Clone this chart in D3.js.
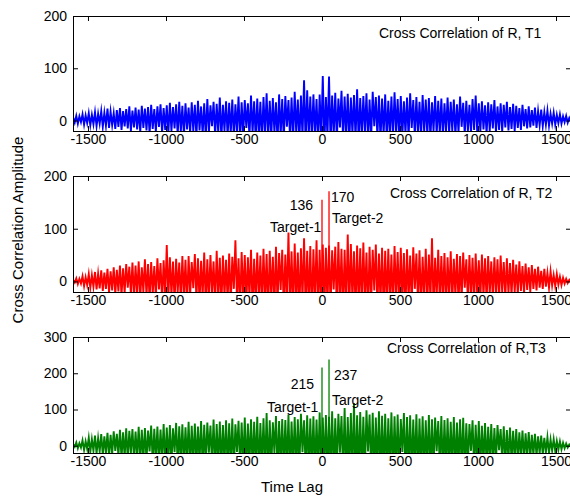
<!DOCTYPE html>
<html><head><meta charset="utf-8">
<script src="https://cdn.jsdelivr.net/npm/d3@7"></script>
<style>
body{margin:0;background:#fff}
svg text{font-family:"Liberation Sans",Arial,sans-serif;fill:#000}
</style>
</head><body>
<svg id="chart" width="570" height="497"></svg>
<script>
// ---------- data ----------
const lagStart = -1595, lagStep = 20;          // bin lags (x categories)
const xTicks = [-1500, -1000, -500, 0, 500, 1000, 1500];
const yTicksT1 = [0, 100, 200];
const yTicksT2 = [0, 100, 200];
const yTicksT3 = [0, 100, 200, 300];
const titles = ["Cross Correlation of R, T1", "Cross Correlation of R, T2", "Cross Correlation of R,T3"];

// upper swings of the correlation signal per lag bin
const t1Peaks = [6,9,8,12,10,14,11,16,13,18,
 15,23,17,14,20,24,18,22,27,19,
 25,21,28,23,26,30,22,27,31,24,
 29,34,26,31,36,28,33,25,35,30,
 38,27,33,41,29,36,32,44,30,37,
 34,40,31,46,35,39,33,48,37,42,
 36,45,52,38,43,35,50,41,47,39,
 44,55,40,48,77,58,46,50,41,50,
 85,45,84,48,53,42,57,46,51,44,
 49,60,43,47,52,40,55,45,48,42,
 50,38,46,54,41,47,37,44,52,39,
 45,36,49,40,43,35,47,38,42,33,
 44,36,40,31,46,34,38,30,41,48,
 33,37,29,35,31,39,27,33,30,36,
 26,32,28,24,30,22,27,20,25,18,
 21,16,19,13,15,11,12,8,9,5];
// lower swings
const t1Troughs = [-4,-6,-3,-8,-5,-9,-7,-11,-6,-12,
 -10,-14,-9,-16,-12,-18,-11,-15,-20,-13,
 -17,-22,-14,-19,-25,-16,-21,-12,-24,-18,
 -26,-20,-15,-28,-22,-30,-17,-25,-21,-32,
 -19,-27,-33,-23,-11,-29,-24,-35,-20,-31,
 -26,-34,-22,-38,-28,-14,-33,-25,-36,-30,
 -40,-27,-35,-31,-24,-42,-29,-37,-12,-33,
 -38,-26,-41,-32,-45,-30,-36,-28,-43,-35,
 -48,-33,-44,-29,-39,-13,-37,-31,-42,-27,
 -36,-40,-30,-25,-38,-34,-11,-32,-39,-28,
 -35,-29,-33,-24,-37,-31,-26,-34,-14,-30,
 -27,-32,-23,-29,-35,-21,-28,-25,-31,-22,
 -26,-20,-30,-24,-12,-27,-21,-25,-18,-23,
 -22,-17,-26,-20,-15,-23,-18,-21,-13,-19,
 -16,-20,-14,-18,-11,-15,-13,-10,-14,-9,
 -11,-8,-10,-6,-8,-5,-6,-3,-4,-2];

const t2Peaks = [3,6,5,10,8,14,12,18,15,21,
 17,24,19,27,22,30,25,33,28,36,
 30,38,27,42,33,37,29,44,35,40,
 69,46,38,43,36,48,41,48,37,52,
 44,39,55,42,50,38,58,45,49,41,
 53,47,78,44,56,50,46,60,43,55,
 49,62,52,58,47,66,54,60,51,93,
 57,72,55,63,82,58,67,61,78,60,
 70,64,68,59,66,75,62,60,89,71,
 57,68,63,74,55,66,60,70,53,64,
 58,62,51,67,56,64,54,61,49,65,
 53,59,47,62,51,82,45,60,48,54,
 46,57,43,52,48,55,42,50,45,53,
 40,51,44,48,38,46,42,49,37,44,
 35,41,32,38,29,34,27,31,24,28,
 20,24,16,19,12,14,9,7,5,3];
const t2Troughs = [-2,-5,-4,-9,-7,-12,-10,-15,-13,-18,
 -14,-21,-17,-24,-19,-27,-22,-12,-25,-30,
 -26,-33,-20,-29,-36,-24,-31,-15,-38,-27,
 -34,-28,-40,-22,-37,-31,-44,-26,-13,-35,
 -41,-30,-47,-36,-25,-43,-33,-50,-29,-39,
 -45,-14,-38,-52,-34,-46,-31,-55,-40,-36,
 -49,-42,-57,-33,-51,-45,-16,-53,-39,-48,
 -58,-44,-61,-37,-54,-47,-63,-41,-56,-50,
 -60,-46,-52,-15,-57,-43,-59,-49,-53,-40,
 -55,-47,-51,-38,-58,-44,-17,-50,-42,-54,
 -46,-39,-52,-35,-48,-43,-56,-37,-45,-14,
 -41,-49,-34,-44,-38,-51,-32,-42,-36,-47,
 -33,-40,-29,-45,-35,-12,-38,-31,-41,-28,
 -36,-30,-39,-25,-33,-27,-35,-22,-31,-24,
 -28,-21,-26,-18,-23,-16,-20,-14,-17,-12,
 -14,-10,-12,-8,-9,-6,-7,-4,-3,-2];

const t3Peaks = [4,9,7,15,12,22,18,28,21,32,
 26,36,30,40,33,44,37,48,41,46,
 39,52,44,49,42,56,47,53,45,60,
 50,57,48,63,54,59,51,66,55,61,
 53,68,58,64,56,72,60,67,57,70,
 62,75,59,69,64,78,61,73,66,80,
 63,76,90,70,65,82,68,74,71,86,
 67,79,73,88,70,84,75,81,72,92,
 78,85,80,95,76,88,82,104,79,90,
 118,84,93,80,98,86,91,78,95,83,
 88,76,92,81,86,74,90,79,84,72,
 87,75,81,70,85,73,78,68,82,71,
 76,66,79,64,73,77,62,60,70,58,
 68,55,63,52,60,49,57,46,54,43,
 50,41,46,37,42,34,38,30,33,26,
 28,22,23,17,18,13,12,8,6,3];
const t3Troughs = [-3,-7,-5,-12,-9,-17,-14,-22,-16,-26,
 -21,-30,-24,-14,-28,-35,-31,-40,-20,-37,
 -33,-45,-38,-42,-16,-48,-40,-46,-39,-52,
 -44,-50,-18,-55,-47,-51,-45,-58,-49,-54,
 -47,-60,-52,-19,-50,-63,-54,-59,-51,-62,
 -55,-66,-17,-61,-57,-69,-54,-64,-59,-71,
 -56,-68,-75,-62,-20,-72,-60,-66,-63,-77,
 -59,-70,-65,-18,-62,-74,-67,-72,-64,-80,
 -70,-76,-72,-84,-68,-19,-73,-90,-71,-80,
 -95,-75,-83,-71,-16,-77,-81,-69,-85,-74,
 -79,-68,-82,-72,-77,-17,-80,-70,-75,-64,
 -78,-67,-72,-62,-76,-65,-15,-60,-73,-63,
 -68,-59,-70,-57,-65,-68,-55,-14,-62,-51,
 -60,-49,-56,-46,-53,-44,-12,-41,-48,-38,
 -44,-36,-40,-32,-37,-30,-33,-26,-29,-22,
 -24,-19,-20,-14,-15,-11,-10,-7,-5,-3];

const t2TargetLags = [0, 45], t2TargetValues = [155, 171], t2TargetLabels = ["136", "170"];
const t3TargetLags = [0, 45], t3TargetValues = [216, 238], t3TargetLabels = ["215", "237"];

// ---------- layout ----------
const svg = d3.select("#chart");
const left = 73, right = 571;
const x = d3.scaleLinear().domain([-1596, 1596]).range([left, right]);

const panels = [
  {top:16,  bottom:131, yDomain:[-20,200], yTicks:yTicksT1, color:"#0000ff", peaks:t1Peaks, troughs:t1Troughs,
   title:titles[0], titlePos:[379,38], targets:null},
  {top:176, bottom:292, yDomain:[-20,200], yTicks:yTicksT2, color:"#ff0000", peaks:t2Peaks, troughs:t2Troughs,
   title:titles[1], titlePos:[390,198],
   targets:{lags:t2TargetLags, values:t2TargetValues, labels:t2TargetLabels,
     valPos:[[313,210],[331,202]], namePos:[[270,232],[332,223]]}},
  {top:337, bottom:453, yDomain:[-20,300], yTicks:yTicksT3, color:"#008000", peaks:t3Peaks, troughs:t3Troughs,
   title:titles[2], titlePos:[387,353],
   targets:{lags:t3TargetLags, values:t3TargetValues, labels:t3TargetLabels,
     valPos:[[314,389],[334,380]], namePos:[[267,412],[332,405]]}}
];

panels.forEach((p, i) => {
  const y = d3.scaleLinear().domain(p.yDomain).range([p.bottom, p.top]);
  const g = svg.append("g");
  const cid = "clip" + i;
  svg.append("clipPath").attr("id", cid).append("rect")
    .attr("x", left).attr("y", p.top).attr("width", right - left).attr("height", p.bottom - p.top);

  // oscillating correlation signal: upper swing then lower swing in each lag bin
  const pts = [];
  p.peaks.forEach((v, j) => {
    const lag = lagStart + j * lagStep;
    pts.push([lag, v]);
    pts.push([lag + lagStep / 2, p.troughs[j]]);
  });
  const line = d3.line().x(d => x(d[0])).y(d => y(d[1]));
  const dg = g.append("g").attr("clip-path", `url(#${cid})`);
  dg.append("path").datum(pts).attr("d", line)
    .attr("fill", "none").attr("stroke", p.color).attr("stroke-width", 1.9)
    .attr("stroke-linejoin", "miter").attr("stroke-miterlimit", 10);

  if (p.targets) {
    p.targets.lags.forEach((lag, k) => {
      dg.append("line")
        .attr("x1", x(lag)).attr("x2", x(lag))
        .attr("y1", y(0)).attr("y2", y(p.targets.values[k]))
        .attr("stroke", p.color).attr("stroke-width", 1.3);
    });
    p.targets.labels.forEach((lab, k) => {
      g.append("text").attr("x", p.targets.valPos[k][0]).attr("y", p.targets.valPos[k][1])
        .attr("text-anchor", k === 0 ? "end" : "start").attr("font-size", 14).text(lab);
      g.append("text").attr("x", p.targets.namePos[k][0]).attr("y", p.targets.namePos[k][1])
        .attr("font-size", 14).text("Target-" + (k + 1));
    });
  }

  // axes (ticks inward on all sides)
  const fmt = d => String(d);
  const ax = [
    g.append("g").attr("transform", `translate(0,${p.bottom})`)
      .call(d3.axisBottom(x).tickValues(xTicks).tickFormat(fmt).tickSizeInner(-5).tickSizeOuter(0).tickPadding(3)),
    g.append("g").attr("transform", `translate(0,${p.top})`)
      .call(d3.axisTop(x).tickValues(xTicks).tickFormat("").tickSizeInner(-5).tickSizeOuter(0)),
    g.append("g").attr("transform", `translate(${left},0)`)
      .call(d3.axisLeft(y).tickValues(p.yTicks).tickFormat(fmt).tickSizeInner(-5).tickSizeOuter(0).tickPadding(6)),
    g.append("g").attr("transform", `translate(${right},0)`)
      .call(d3.axisRight(y).tickValues(p.yTicks).tickFormat("").tickSizeInner(-5).tickSizeOuter(0))
  ];
  ax.forEach(a => {
    a.select(".domain").remove();
    a.selectAll("text").attr("font-size", 14).attr("font-family", "Liberation Sans, Arial, sans-serif").attr("fill", "#000");
    a.selectAll("line").attr("stroke", "#000");
  });
  g.append("rect").attr("x", left).attr("y", p.top).attr("width", right - left).attr("height", p.bottom - p.top)
    .attr("fill", "none").attr("stroke", "#000").attr("stroke-width", 1).attr("shape-rendering", "crispEdges");

  g.append("text").attr("x", p.titlePos[0]).attr("y", p.titlePos[1]).attr("font-size", 14).text(p.title);
});

svg.append("text").attr("x", 292).attr("y", 492).attr("text-anchor", "middle")
  .attr("font-size", 15).text("Time Lag");
svg.append("text").attr("transform", "translate(23,230) rotate(-90)").attr("text-anchor", "middle")
  .attr("font-size", 15).text("Cross Correlation Amplitude");
</script>
</body></html>
